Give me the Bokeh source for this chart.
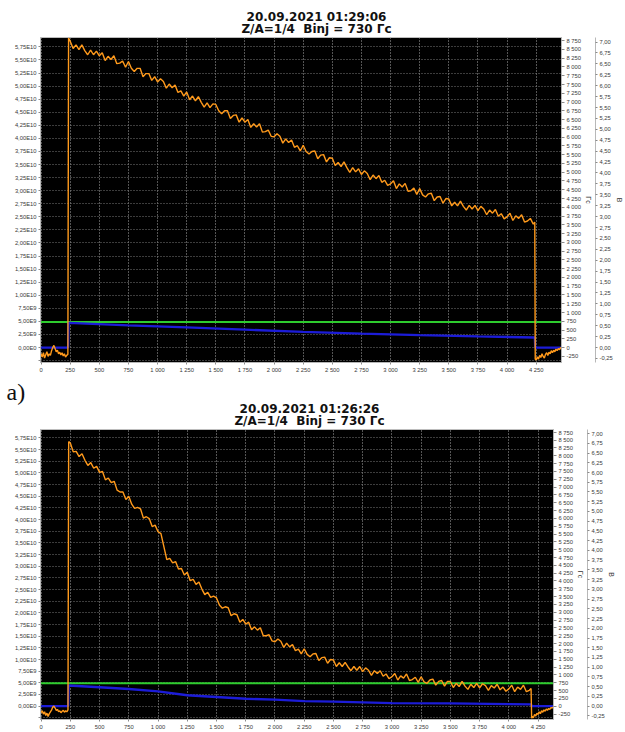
from bokeh.plotting import figure
from bokeh.models import Range1d, LinearAxis, FixedTicker, CustomJSTickFormatter, Span, Label
from bokeh.layouts import column
from bokeh.embed import file_html
from bokeh.resources import INLINE

# ---------------------------------------------------------------- data
TITLES_A = ["20.09.2021 01:29:06", "Z/A=1/4\u00a0 Binj = 730 Гс"]
TITLES_B = ["20.09.2021 01:26:26", "Z/A=1/4\u00a0 Binj = 730 Гс"]
PANEL_TAG = "a)"
AXIS_GS = "Гс"
AXIS_V = "В"
BINJ_GS = 730          # injection field, Гс (green line)
Y_UNIT = 1e8           # orange values below are given in units of 1e8

X_TICKS = [0, 250, 500, 750, 1000, 1250, 1500, 1750, 2000, 2250, 2500, 2750,
           3000, 3250, 3500, 3750, 4000, 4250]
LEFT_TICKS = [-2.5e9, 0.0, 2.5e9, 5.0e9, 7.5e9, 1.0e10, 1.25e10, 1.5e10, 1.75e10,
              2.0e10, 2.25e10, 2.5e10, 2.75e10, 3.0e10, 3.25e10, 3.5e10, 3.75e10,
              4.0e10, 4.25e10, 4.5e10, 4.75e10, 5.0e10, 5.25e10, 5.5e10, 5.75e10]
GS_TICKS = [-250, 0, 250, 500, 750, 1000, 1250, 1500, 1750, 2000, 2250, 2500,
            2750, 3000, 3250, 3500, 3750, 4000, 4250, 4500, 4750, 5000, 5250,
            5500, 5750, 6000, 6250, 6500, 6750, 7000, 7250, 7500, 7750, 8000,
            8250, 8500, 8750]
V_TICKS = [-0.25, 0.0, 0.25, 0.5, 0.75, 1.0, 1.25, 1.5, 1.75, 2.0, 2.25, 2.5,
           2.75, 3.0, 3.25, 3.5, 3.75, 4.0, 4.25, 4.5, 4.75, 5.0, 5.25, 5.5,
           5.75, 6.0, 6.25, 6.5, 6.75, 7.0]

# ---- panel a (upper) : orange trace (x, value/1e8)
A_ORANGE_X = [0, 10, 20, 30, 40, 50, 60, 70, 80, 90, 100, 110, 120, 130, 140, 150,
              160, 170, 180, 190, 200, 210, 220, 230, 236,
              250, 275, 300, 325, 350, 375, 400, 425, 450, 475,
              500, 525, 550, 575, 600, 625, 650, 675, 700, 725,
              750, 775, 800, 825, 850, 875, 900, 925, 950, 975,
              1000, 1025, 1050, 1075, 1100, 1125, 1150, 1175, 1200, 1225,
              1250, 1275, 1300, 1325, 1350, 1375, 1400, 1425, 1450, 1475,
              1500, 1525, 1550, 1575, 1600, 1625, 1650, 1675, 1700, 1725,
              1750, 1775, 1800, 1825, 1850, 1875, 1900, 1925, 1950, 1975,
              2000, 2025, 2050, 2075, 2100, 2125, 2150, 2175, 2200, 2225,
              2250, 2275, 2300, 2325, 2350, 2375, 2400, 2425, 2450, 2475,
              2500, 2525, 2550, 2575, 2600, 2625, 2650, 2675, 2700, 2725,
              2750, 2775, 2800, 2825, 2850, 2875, 2900, 2925, 2950, 2975,
              3000, 3025, 3050, 3075, 3100, 3125, 3150, 3175, 3200, 3225,
              3250, 3275, 3300, 3325, 3350, 3375, 3400, 3425, 3450, 3475,
              3500, 3525, 3550, 3575, 3600, 3625, 3650, 3675, 3700, 3725,
              3750, 3775, 3800, 3825, 3850, 3875, 3900, 3925, 3950, 3975,
              4000, 4025, 4050, 4075, 4100, 4125, 4150, 4175, 4200, 4225,
              4238, 4242,
              4250, 4260, 4270, 4280, 4290, 4300, 4310, 4320, 4330, 4340, 4350,
              4360, 4370, 4380, 4390, 4400, 4410, 4420, 4430, 4440, 4450, 4460, 4470]
A_ORANGE_Y = [-12, -18, -10, -20, -14, -8, -17, -12, -15, -6, 0, 4, -2, -8, -5, -12,
              -9, -14, -10, -16, -12, -18, -15, -13, 592,
              586, 572, 579, 570, 579, 568, 560, 569, 560, 567,
              558, 564, 549, 557, 551, 558, 543, 544, 548, 536,
              547, 534, 528, 534, 534, 518, 524, 524, 511, 518,
              508, 514, 509, 496, 504, 497, 502, 488, 491, 481,
              489, 474, 481, 472, 480, 469, 460, 468, 459, 466,
              465, 453, 447, 453, 453, 438, 444, 445, 431, 439,
              431, 436, 421, 428, 422, 428, 412, 413, 416, 404,
              403, 409, 404, 391, 399, 392, 397, 383, 386, 376,
              387, 375, 370, 375, 376, 361, 368, 369, 355, 363,
              362, 348, 354, 346, 355, 344, 335, 344, 336, 342,
              331, 338, 333, 321, 330, 323, 329, 316, 320, 310,
              313, 319, 304, 313, 307, 314, 299, 300, 305, 293,
              304, 292, 288, 294, 295, 281, 288, 289, 276, 285,
              284, 271, 278, 271, 280, 270, 263, 272, 265, 272,
              262, 270, 265, 254, 263, 257, 264, 251, 256, 246,
              250, 257, 243, 252, 247, 254, 240, 242, 247, 236,
              240, -22,
              -24, -18, -22, -15, -19, -12, -17, -20, -13, -10, -15,
              -9, -12, -6, -10, -5, -8, -3, -6, -2, -4, 0, -1]
# ---- panel a : blue trace (x, В)
A_BLUE_X = [0, 232, 236, 750, 1250, 1750, 2250, 2750, 3250, 3750, 4238, 4242, 4470]
A_BLUE_Y = [0.0, 0.0, 0.565, 0.51, 0.46, 0.41, 0.36, 0.32, 0.285, 0.255, 0.23, 0.0, 0.0]

# ---- panel b (lower) : orange trace (x, value/1e8)
B_ORANGE_X = [0, 10, 20, 30, 40, 50, 60, 70, 80, 90, 100, 110, 120, 130, 140, 150,
              160, 170, 180, 190, 200, 210, 220, 230, 236,
              250, 275, 300, 325, 350, 375, 400, 425, 450, 475,
              500, 525, 550, 575, 600, 625, 650, 675, 700, 725,
              750, 775, 800, 825, 850, 875, 900, 925, 950, 975,
              1000, 1025, 1050, 1075, 1100, 1125, 1150, 1175, 1200, 1225,
              1250, 1275, 1300, 1325, 1350, 1375, 1400, 1425, 1450, 1475,
              1500, 1525, 1550, 1575, 1600, 1625, 1650, 1675, 1700, 1725,
              1750, 1775, 1800, 1825, 1850, 1875, 1900, 1925, 1950, 1975,
              2000, 2025, 2050, 2075, 2100, 2125, 2150, 2175, 2200, 2225,
              2250, 2275, 2300, 2325, 2350, 2375, 2400, 2425, 2450, 2475,
              2500, 2525, 2550, 2575, 2600, 2625, 2650, 2675, 2700, 2725,
              2750, 2775, 2800, 2825, 2850, 2875, 2900, 2925, 2950, 2975,
              3000, 3025, 3050, 3075, 3100, 3125, 3150, 3175, 3200, 3225,
              3250, 3275, 3300, 3325, 3350, 3375, 3400, 3425, 3450, 3475,
              3500, 3525, 3550, 3575, 3600, 3625, 3650, 3675, 3700, 3725,
              3750, 3775, 3800, 3825, 3850, 3875, 3900, 3925, 3950, 3975,
              4000, 4025, 4050, 4075, 4100, 4125, 4150, 4175,
              4190, 4195,
              4200, 4210, 4220, 4230, 4240, 4250, 4260, 4270, 4280, 4290,
              4300, 4310, 4320, 4330, 4340, 4350, 4360, 4370, 4380]
B_ORANGE_Y = [-14, -10, -17, -12, -20, -15, -22, -16, -12, -8, -2, 0, -4, -9, -7, -12,
              -10, -14, -11, -9, -13, -10, -12, -8, 567,
              564, 545, 546, 535, 541, 527, 516, 522, 510, 514,
              501, 503, 485, 489, 479, 482, 463, 459, 459, 443,
              450, 433, 424, 426, 423, 403, 406, 402, 385, 388,
              374, 370, 342, 314, 317, 307, 310, 294, 295, 281,
              287, 269, 272, 261, 266, 251, 239, 244, 233, 236,
              232, 217, 210, 213, 211, 194, 198, 196, 180, 186,
              176, 180, 164, 170, 163, 168, 151, 151, 153, 140,
              138, 144, 139, 126, 135, 127, 132, 119, 122, 112,
              123, 111, 106, 112, 113, 98, 104, 105, 92, 100,
              99, 85, 93, 85, 94, 84, 76, 85, 77, 85,
              74, 82, 77, 66, 76, 70, 76, 64, 69, 59,
              63, 70, 56, 65, 60, 69, 55, 57, 62, 51,
              63, 52, 49, 56, 58, 45, 53, 55, 43, 53,
              53, 40, 49, 42, 53, 43, 36, 47, 40, 49,
              39, 48, 44, 34, 44, 39, 47, 35, 41, 32,
              37, 45, 31, 41, 36, 45, 31, 34,
              38, -26,
              -22, -25, -18, -21, -15, -18, -12, -16, -10, -13,
              -8, -11, -6, -9, -5, -7, -3, -4, -2]
# ---- panel b : blue trace (x, В)
B_BLUE_X = [0, 232, 236, 500, 750, 1000, 1250, 1500, 1750, 2000, 2250, 2500,
            2750, 3000, 3500, 4000, 4190, 4195, 4380]
B_BLUE_Y = [0.0, 0.0, 0.53, 0.485, 0.44, 0.38, 0.28, 0.235, 0.19, 0.165, 0.13,
            0.115, 0.097, 0.08, 0.07, 0.053, 0.045, 0.0, 0.0]

# ---------------------------------------------------------------- layout constants
W = 625
FRAME_LEFT = 40
PX_PER_X = 0.11694
LEFT_RANGE = (-0.286e10, 5.93e10)
GS_RANGE = (-425, 8840)
V_RANGE = (-0.343, 7.105)

ORANGE = "#ff9a1c"
BLUE = "#1c1cd8"
GREEN = "#2ecc2e"

FMT_E = """
if (tick < 0) { return ""; }
if (tick == 0) { return "0,00E0"; }
var e = Math.floor(Math.log10(tick) + 1e-9);
var m = tick / Math.pow(10, e);
return m.toFixed(2).replace(".", ",") + "E" + e;
"""
FMT_THOUS = """
var a = Math.abs(Math.round(tick));
var s = String(a);
if (s.length > 3) { s = s.slice(0, s.length - 3) + " " + s.slice(s.length - 3); }
return (tick < 0 ? "-" : "") + s;
"""
FMT_DEC = """
return tick.toFixed(2).replace(".", ",");
"""


def style_axis(ax, ticks, code, tick_out=2, standoff=2):
    ax.ticker = FixedTicker(ticks=ticks)
    ax.formatter = CustomJSTickFormatter(code=code)
    ax.major_label_text_font = "Liberation Sans"
    ax.major_label_text_font_size = "5.8px"
    ax.major_label_text_color = "#3a3a3a"
    ax.major_tick_out = tick_out
    ax.major_tick_in = 0
    ax.minor_tick_out = 0
    ax.minor_tick_in = 0
    ax.major_label_standoff = standoff
    ax.axis_line_color = "#b8b8b8"
    ax.major_tick_line_color = "#8a8a8a"
    ax.axis_label_text_font = "Liberation Sans"
    ax.axis_label_text_font_size = "7px"
    ax.axis_label_text_font_style = "normal"
    ax.axis_label_text_color = "#333333"


def text_band(height, titles, title_cx, title_cys, tag=None, tag_pos=None):
    """A white strip without axes that carries the titles above a panel."""
    t = figure(width=W, height=height, output_backend="svg", toolbar_location=None,
               x_range=Range1d(0, W), y_range=Range1d(height, 0),
               x_axis_location=None, y_axis_location=None,
               min_border_left=0, min_border_right=0, min_border_top=0,
               min_border_bottom=0, background_fill_color="white",
               border_fill_color="white")
    t.frame_align = False
    t.grid.visible = False
    t.outline_line_color = None
    for text, cy in zip(titles, title_cys):
        t.add_layout(Label(x=title_cx, y=cy, text=text, text_align="center",
                           text_baseline="middle", text_font="DejaVu Sans",
                           text_font_style="bold", text_font_size="12px",
                           text_color="#111111"))
    if tag is not None:
        t.add_layout(Label(x=tag_pos[0], y=tag_pos[1], text=tag,
                           text_align="left", text_baseline="middle",
                           text_font="Liberation Serif", text_font_size="24px",
                           text_color="#111111"))
    return t


def build(fig_h, bottom_margin, right_margin, ox, oy, bx, by):
    fw = W - FRAME_LEFT - right_margin
    xr = (-5, -5 + fw / PX_PER_X)

    p = figure(width=W, height=fig_h, output_backend="svg", toolbar_location=None,
               x_range=Range1d(*xr), y_range=Range1d(*LEFT_RANGE),
               min_border_left=FRAME_LEFT, min_border_top=0,
               min_border_right=right_margin, min_border_bottom=bottom_margin,
               background_fill_color="black", border_fill_color="white")
    p.frame_align = False
    p.outline_line_color = "#bdbdbd"
    p.extra_y_ranges = {"gs": Range1d(*GS_RANGE), "v": Range1d(*V_RANGE)}

    style_axis(p.xaxis[0], X_TICKS, FMT_THOUS)
    style_axis(p.yaxis[0], LEFT_TICKS, FMT_E)

    ax_gs = LinearAxis(y_range_name="gs", axis_label=AXIS_GS)
    style_axis(ax_gs, GS_TICKS, FMT_THOUS, tick_out=3, standoff=2)
    ax_gs.axis_label_standoff = 1
    p.add_layout(ax_gs, "right")
    ax_v = LinearAxis(y_range_name="v", axis_label=AXIS_V)
    style_axis(ax_v, V_TICKS, FMT_DEC, tick_out=2, standoff=2)
    ax_v.axis_label_standoff = 0
    p.add_layout(ax_v, "right")

    p.xgrid.grid_line_color = "#a8a8a8"
    p.xgrid.grid_line_dash = "1 2"
    p.ygrid.grid_line_color = "#787878"
    p.ygrid.grid_line_dash = "1 2"

    p.add_layout(Span(location=BINJ_GS, dimension="width", y_range_name="gs",
                      line_color=GREEN, line_width=2, level="underlay"))
    p.line(bx, by, y_range_name="v", line_color=BLUE, line_width=2.3)
    p.line(ox, [v * Y_UNIT for v in oy], line_color=ORANGE, line_width=1.4)
    return p


t1 = text_band(37, TITLES_A, 316, (16, 28))
p1 = build(338, 12, 62, A_ORANGE_X, A_ORANGE_Y, A_BLUE_X, A_BLUE_Y)
t2 = text_band(54, TITLES_B, 309, (33, 45), tag=PANEL_TAG, tag_pos=(6, 16))
p2 = build(303, 11, 72, B_ORANGE_X, B_ORANGE_Y, B_BLUE_X, B_BLUE_Y)

page = column(t1, p1, t2, p2)
open("out.html", "w").write(file_html(page, INLINE))
